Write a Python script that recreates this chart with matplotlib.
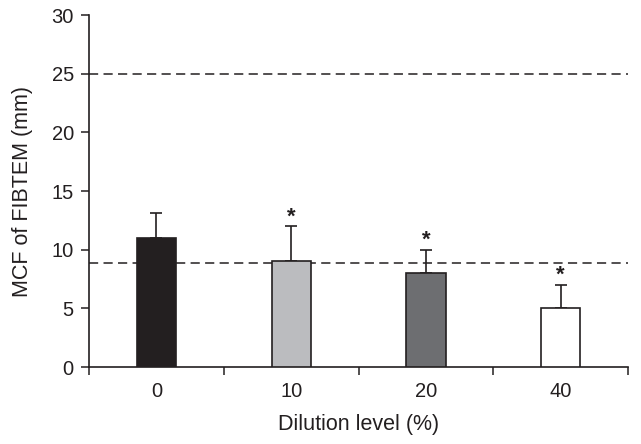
import numpy as np
import matplotlib.pyplot as plt

plt.rcParams['font.family'] = ['Liberation Sans', 'DejaVu Sans']

categories = ["0", "10", "20", "40"]
means = [11.0, 9.0, 8.0, 5.0]
sd_upper = [2.1, 3.0, 2.0, 2.0]
significant = [False, True, True, True]
ref_lines = [25.0, 8.9]
bar_colors = ["#231f20", "#bbbcbf", "#6d6e71", "#ffffff"]
dark = "#231f20"

fig = plt.figure(figsize=(6.41, 4.44), dpi=100)
ax = fig.add_axes([0.139, 0.1734, 0.841, 0.7926])

x = np.arange(len(categories))
ax.bar(x, means, width=0.29, color=bar_colors, edgecolor=dark, linewidth=1.2, zorder=3)
ax.errorbar(x, means, yerr=[np.zeros(len(means)), sd_upper], fmt="none",
            ecolor=dark, elinewidth=1.2, capsize=4, capthick=1.2, zorder=2)

for xi, m, e, s in zip(x, means, sd_upper, significant):
    if s:
        ax.text(xi, m + e - 0.1, "*", ha="center", va="bottom", fontsize=16,
                fontweight="bold", color=dark)

for r in ref_lines:
    ax.axhline(r, color=dark, linestyle=(0, (6, 3.5)), linewidth=1.1, zorder=1)

ax.set_xlim(-0.5, 3.5)
ax.set_ylim(0, 30)
ax.set_yticks(np.arange(0, 31, 5))
ax.set_xticks(x)
ax.set_xticklabels(categories)
ax.set_xticks(np.arange(-0.5, 4, 1), minor=True)
ax.tick_params(axis="x", which="major", length=0, pad=11, labelsize=14.5, colors=dark)
ax.tick_params(axis="x", which="minor", length=6, width=1.1, direction="out", color=dark)
ax.tick_params(axis="y", length=6, width=1.1, direction="out", labelsize=14.5, colors=dark, pad=5)

for sp in ["top", "right"]:
    ax.spines[sp].set_visible(False)
for sp in ["left", "bottom"]:
    ax.spines[sp].set_linewidth(1.2)
    ax.spines[sp].set_color(dark)

ax.set_xlabel("Dilution level (%)", fontsize=15.5, color=dark, labelpad=9)
ax.set_ylabel("MCF of FIBTEM (mm)", fontsize=15.5, color=dark, labelpad=13)

fig.savefig("out.png", dpi=100)
